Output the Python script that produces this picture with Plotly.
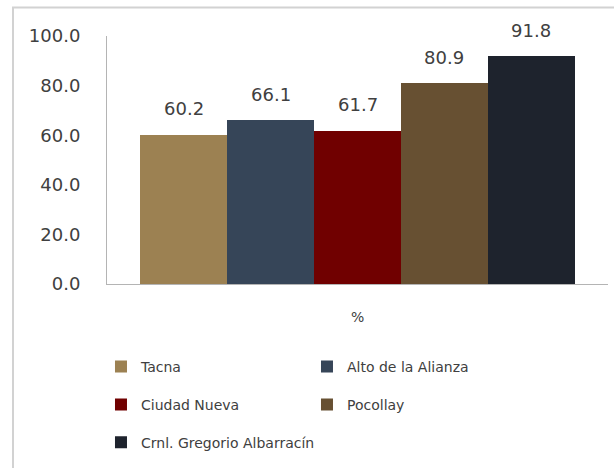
import plotly.graph_objects as go

districts = ["Tacna", "Alto de la Alianza", "Ciudad Nueva", "Pocollay", "Crnl. Gregorio Albarracín"]
values = [60.2, 66.1, 61.7, 80.9, 91.8]
colors = ["#9c8152", "#364558", "#700000", "#675032", "#1e232d"]
legend_ids = ["legend", "legend", "legend2", "legend2", "legend3"]
y_ticks = [0, 20, 40, 60, 80, 100]
x_label = "%"

FONT = "DejaVu Sans"
TXT = "#404040"

fig = go.Figure()
for name, v, c, lg in zip(districts, values, colors, legend_ids):
    fig.add_trace(go.Bar(
        x=[name], y=[v], name=name, marker=dict(color=c, line=dict(width=0)),
        legend=lg, hoverinfo="skip",
    ))

for name, v in zip(districts, values):
    fig.add_annotation(x=name, y=v, text=f"{v:.1f}", showarrow=False,
                       yanchor="middle", yshift=26,
                       font=dict(family=FONT, size=18, color=TXT))

fig.add_annotation(xref="paper", yref="paper", x=0.5, y=0, yshift=-33,
                   text=x_label, showarrow=False, yanchor="middle",
                   font=dict(family=FONT, size=14, color=TXT))

# outer chart border
fig.add_shape(type="rect", xref="paper", yref="paper",
              x0=-0.1876, x1=1.03, y0=-0.9, y1=1.115,
              line=dict(color="#d2d2d2", width=2), layer="below")

leg_common = dict(orientation="h", xanchor="left", yanchor="middle",
                  font=dict(family=FONT, size=14, color=TXT),
                  bgcolor="rgba(0,0,0,0)", borderwidth=0)

lx = -0.012
fig.update_layout(
    width=614, height=468,
    margin=dict(l=107, r=6, t=35.6, b=184, autoexpand=False),
    paper_bgcolor="white", plot_bgcolor="white",
    barmode="overlay", bargap=0,
    showlegend=True,
    legend=dict(x=lx, y=-0.334, entrywidth=161, entrywidthmode="pixels", **leg_common),
    legend2=dict(x=lx, y=-0.487, entrywidth=161, entrywidthmode="pixels", **leg_common),
    legend3=dict(x=lx, y=-0.640, **leg_common),
    xaxis=dict(range=[-0.88, 4.88], showticklabels=False, ticks="",
               showline=True, linecolor="#b4b4b4", linewidth=1,
               showgrid=False, zeroline=False, fixedrange=True),
    yaxis=dict(range=[0, 100], tickvals=y_ticks,
               ticktext=[f"{t:.1f}" for t in y_ticks],
               ticks="", ticklabelstandoff=22,
               tickfont=dict(family=FONT, size=18, color=TXT),
               showline=True, linecolor="#b4b4b4", linewidth=1,
               showgrid=False, zeroline=False, fixedrange=True),
    font=dict(family=FONT, color=TXT),
)

fig.write_html("out.html", config={"displayModeBar": False},
               post_script="document.body.style.margin='0';")
